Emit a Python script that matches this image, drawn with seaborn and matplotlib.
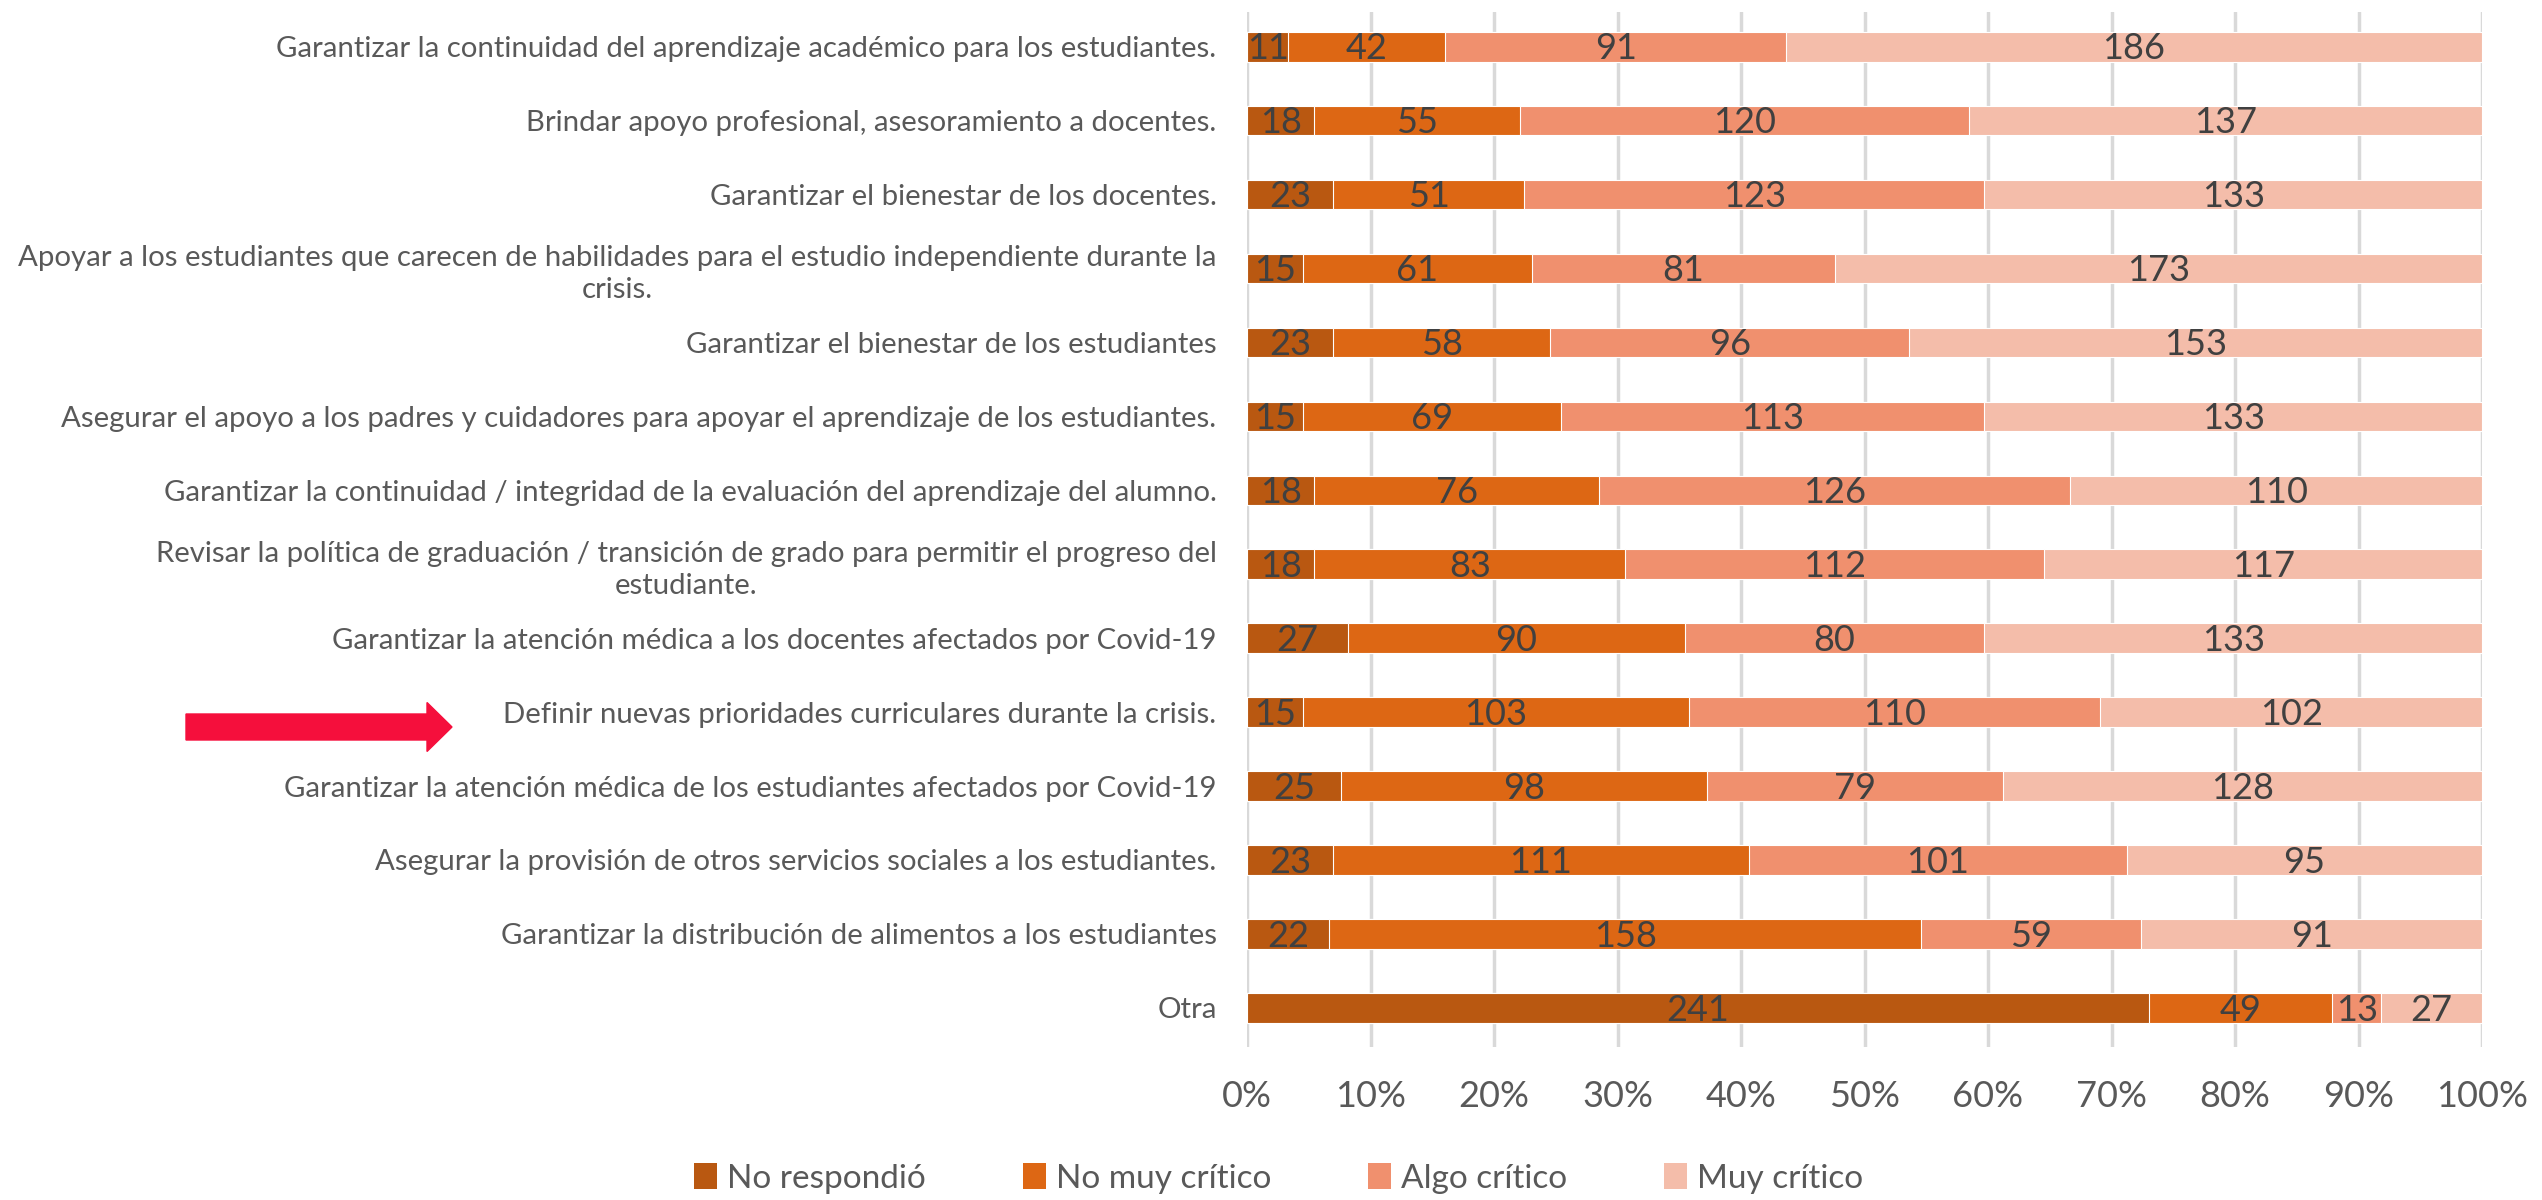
import pandas as pd
import numpy as np
import seaborn as sns
import matplotlib.pyplot as plt
from matplotlib.patches import Patch, FancyArrow

sns.set_theme(style="whitegrid")
plt.rcParams['font.family'] = ['Lato', 'DejaVu Sans']

# Datos
categorias = [
    "Garantizar la continuidad del aprendizaje académico para los estudiantes.",
    "Brindar apoyo profesional, asesoramiento a docentes.",
    "Garantizar el bienestar de los docentes.",
    "Apoyar a los estudiantes que carecen de habilidades para el estudio independiente durante la\ncrisis.",
    "Garantizar el bienestar de los estudiantes",
    "Asegurar el apoyo a los padres y cuidadores para apoyar el aprendizaje de los estudiantes.",
    "Garantizar la continuidad / integridad de la evaluación del aprendizaje del alumno.",
    "Revisar la política de graduación / transición de grado para permitir el progreso del\nestudiante.",
    "Garantizar la atención médica a los docentes afectados por Covid-19",
    "Definir nuevas prioridades curriculares durante la crisis.",
    "Garantizar la atención médica de los estudiantes afectados por Covid-19",
    "Asegurar la provisión de otros servicios sociales a los estudiantes.",
    "Garantizar la distribución de alimentos a los estudiantes",
    "Otra",
]
no_respondio = [11, 18, 23, 15, 23, 15, 18, 18, 27, 15, 25, 23, 22, 241]
no_muy_critico = [42, 55, 51, 61, 58, 69, 76, 83, 90, 103, 98, 111, 158, 49]
algo_critico = [91, 120, 123, 81, 96, 113, 126, 112, 80, 110, 79, 101, 59, 13]
muy_critico = [186, 137, 133, 173, 153, 133, 110, 117, 133, 102, 128, 95, 91, 27]

series = ["No respondió", "No muy crítico", "Algo crítico", "Muy crítico"]
colores = ["#B95811", "#DD6714", "#F0906E", "#F4BDAA"]

df = pd.DataFrame({
    "categoria": categorias,
    series[0]: no_respondio,
    series[1]: no_muy_critico,
    series[2]: algo_critico,
    series[3]: muy_critico,
})
total = df[series].sum(axis=1)
pct = df[series].div(total, axis=0) * 100
acum = pct.cumsum(axis=1)

fig = plt.figure(figsize=(25.42, 12), dpi=100)
ax = fig.add_axes([0.4906, 0.1275, 0.4858, 0.8625])

# Barras apiladas: se dibuja del acumulado mayor al menor
for serie, color in reversed(list(zip(series, colores))):
    sns.barplot(x=acum[serie], y=df["categoria"], orient="h", color=color,
                saturation=1, width=0.4, edgecolor="white", linewidth=0.8,
                ax=ax, zorder=2)

# Etiquetas de valores
inicio = acum - pct
for i in range(len(df)):
    for serie in series:
        xc = inicio.loc[i, serie] + pct.loc[i, serie] / 2
        ax.text(xc, i + 0.03, str(df.loc[i, serie]), ha="center", va="center",
                fontsize=26, color="#404040", zorder=3)

ax.set_xlim(0, 100)
ax.set_ylim(13.53, -0.47)
ax.set_xticks(np.arange(0, 101, 10))
ax.set_xticklabels([f"{v}%" for v in range(0, 101, 10)], fontsize=26, color="#595959")
ax.set_yticks(range(len(categorias)))
ax.set_yticklabels(categorias, fontsize=21.2, color="#595959",
                   multialignment="center", linespacing=1.3)
ax.tick_params(axis="x", length=0, pad=24)
ax.tick_params(axis="y", length=0, pad=22)
ax.set_xlabel("")
ax.set_ylabel("")
ax.grid(axis="x", color="#D9D9D9", linewidth=2.5)
ax.grid(axis="y", visible=False)
ax.set_axisbelow(True)
for s in ax.spines.values():
    s.set_visible(False)

# Leyenda
handles = [Patch(facecolor=c, edgecolor="none") for c in colores]
fig.legend(handles, series, loc="center", bbox_to_anchor=(0.503, 0.018), ncol=4,
           frameon=False, fontsize=24, labelcolor="#595959", handlelength=0.7,
           handleheight=0.8, handletextpad=0.3, columnspacing=2.9)

# Flecha roja
fig.add_artist(FancyArrow(1.86, 4.73, 2.66, 0, width=0.26, head_width=0.49,
                          head_length=0.25, length_includes_head=True,
                          color="#F50F3C", transform=fig.dpi_scale_trans))

plt.savefig("out.png", dpi=100)
